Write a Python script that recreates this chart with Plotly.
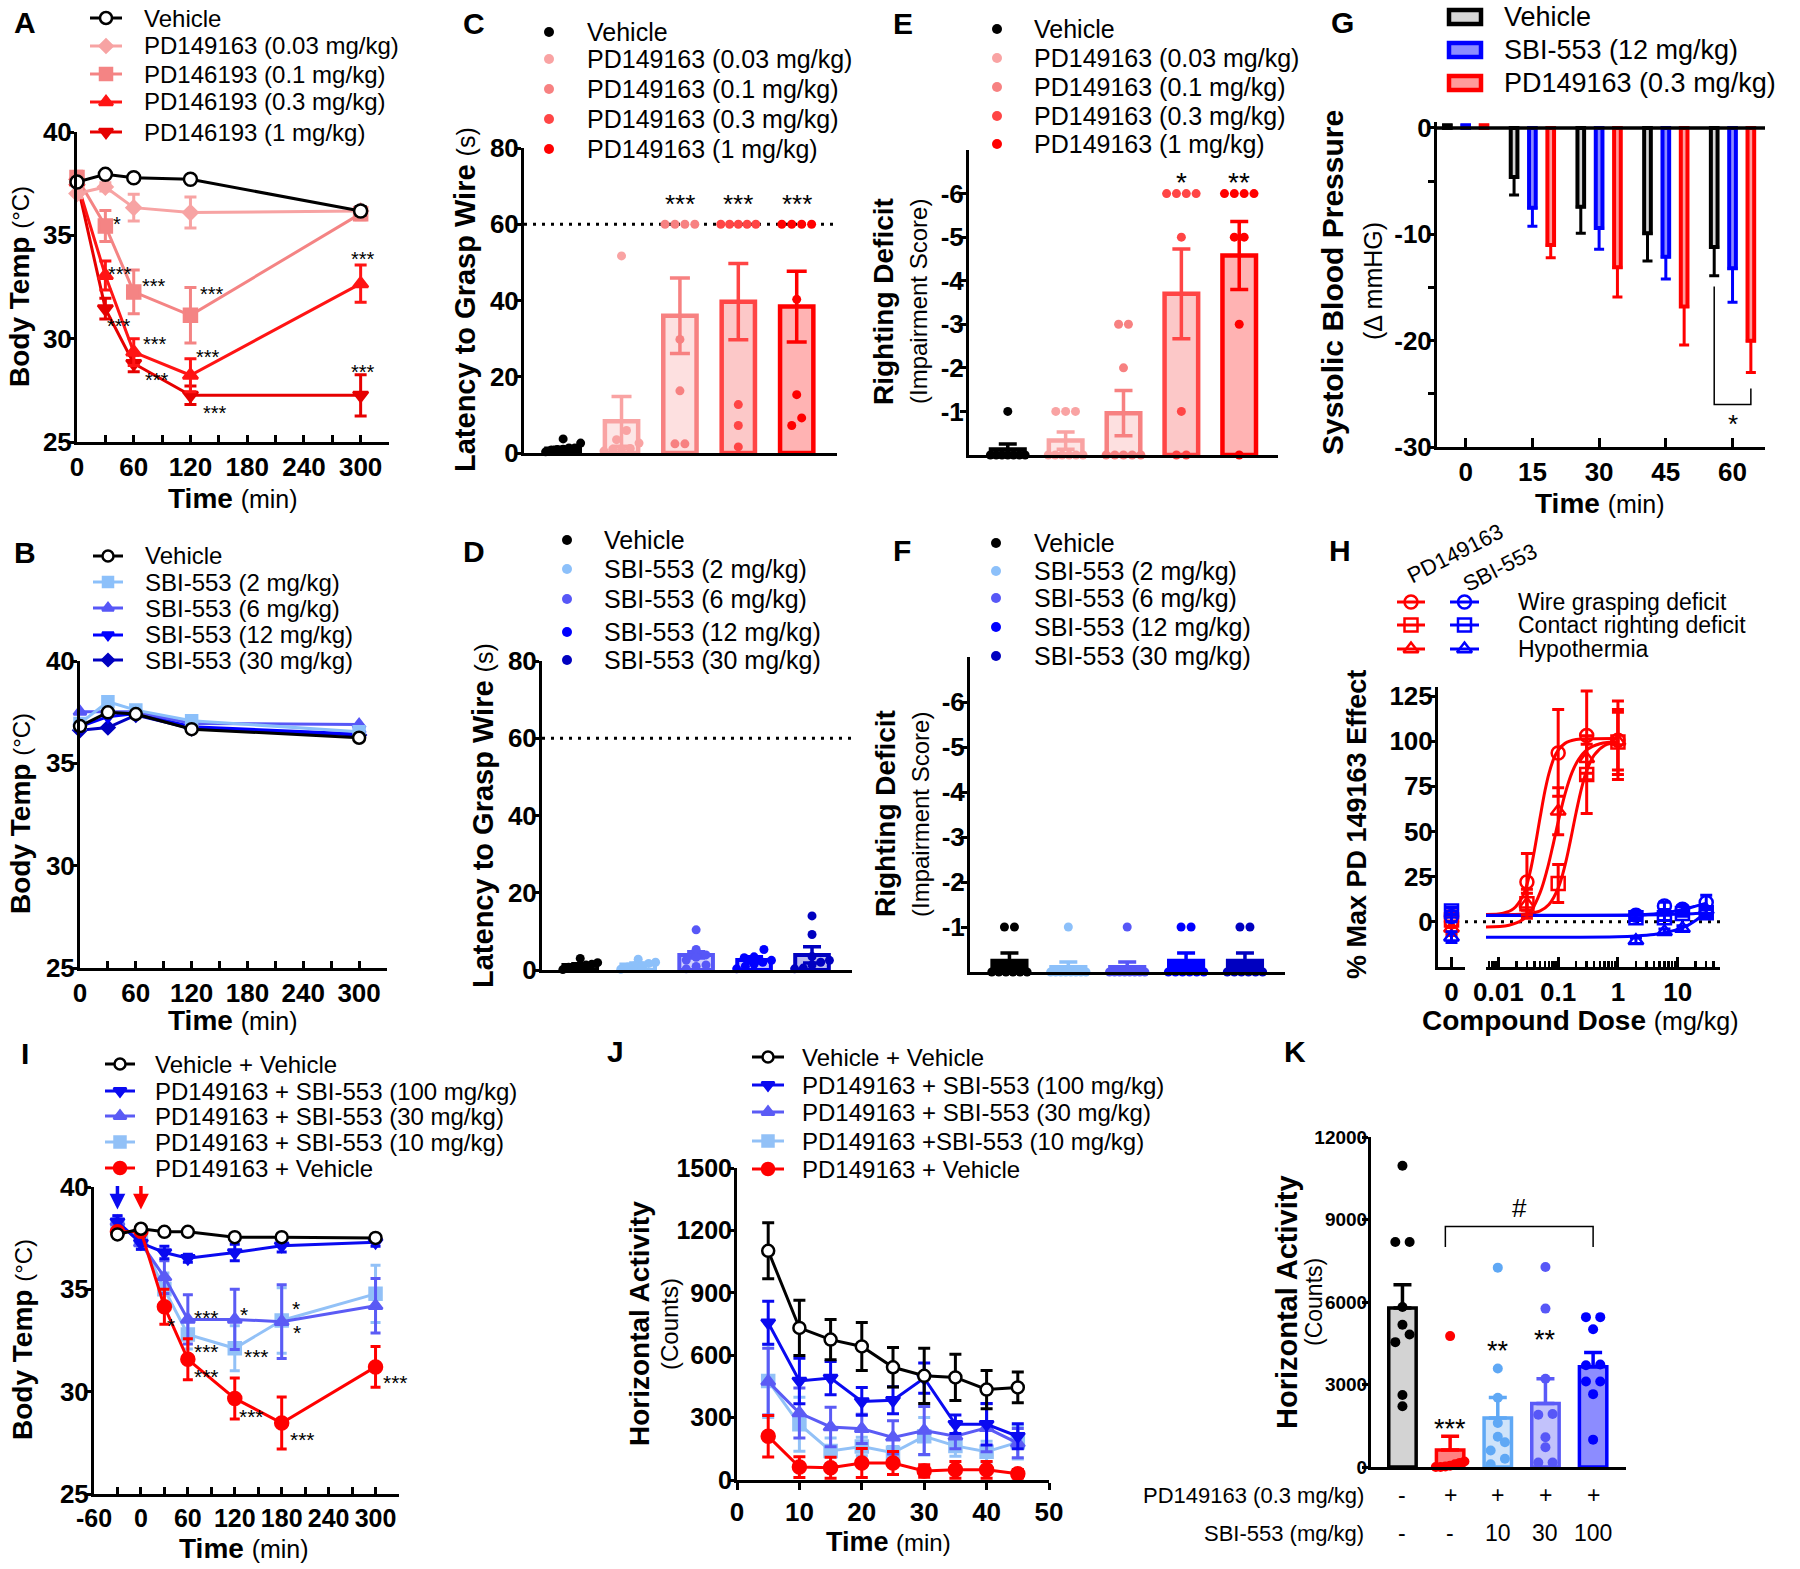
import numpy as np
import plotly.graph_objects as go

W, H = 1800, 1569
OFF = 0                      # page body margin is reset to 0 below
FW, FH = W - OFF, H - OFF
FONT = "Liberation Sans, Arial, Helvetica, sans-serif"

# ============================ DATA ============================
# ---- A : body temperature after PD149163
A_time = [0, 30, 60, 120, 300]
A_labels = ["Vehicle", "PD149163 (0.03 mg/kg)", "PD146193 (0.1 mg/kg)",
            "PD146193 (0.3 mg/kg)", "PD146193 (1 mg/kg)"]
A_vehicle = [37.58, 37.95, 37.79, 37.71, 36.18]
A_pd003 = [37.02, 37.34, 36.34, 36.10, 36.18]
A_pd01 = [37.80, 35.45, 32.26, 31.13, 36.05]
A_pd03 = [37.58, 33.06, 29.35, 28.23, 32.66]
A_pd1 = [37.58, 31.45, 28.80, 27.26, 27.26]
A_vehicle_sem = [0.15, 0.10, 0.10, 0.10, 0.20]
A_pd003_sem = [0.20, 0.20, 0.65, 0.75, 0.20]
A_pd01_sem = [0.30, 0.75, 1.06, 1.34, 0.30]
A_pd03_sem = [0.20, 0.70, 0.65, 0.80, 0.90]
A_pd1_sem = [0.20, 0.50, 0.40, 0.45, 1.00]
A_sig_x = [42, 46, 81, 143, 44, 82, 139, 85, 146, 302, 302]
A_sig_y = [35.74, 33.32, 32.74, 32.35, 30.81, 29.94, 29.31, 28.19, 26.60, 34.05, 28.58]
A_sig_t = ["*", "***", "***", "***", "***", "***", "***", "***", "***", "***", "***"]

# ---- B : body temperature after SBI-553
B_time = [0, 30, 60, 120, 300]
B_labels = ["Vehicle", "SBI-553 (2 mg/kg)", "SBI-553 (6 mg/kg)",
            "SBI-553 (12 mg/kg)", "SBI-553 (30 mg/kg)"]
B_vehicle = [36.82, 37.49, 37.41, 36.67, 36.25]
B_sbi2 = [36.95, 38.01, 37.60, 37.08, 36.54]
B_sbi6 = [37.52, 37.52, 37.52, 36.95, 36.90]
B_sbi12 = [36.79, 37.28, 37.44, 36.79, 36.43]
B_sbi30 = [36.62, 36.75, 37.36, 36.70, 36.38]

# ---- C : latency to grasp wire (s), PD149163
C_labels = ["Vehicle", "PD149163 (0.03 mg/kg)", "PD149163 (0.1 mg/kg)",
            "PD149163 (0.3 mg/kg)", "PD149163 (1 mg/kg)"]
C_mean = [1.1, 8.3, 36.0, 39.7, 38.4]
C_sem = [0.4, 6.5, 9.9, 10.0, 9.3]
C_pts_vehicle = [2.6, 3.7, 1.0, 1.3, 0.3, 1.3, 0.9, 0.8]
C_pts_pd003 = [51.7, 5.9, 2.6, 3.5, 1.0, 1.0, 0.5, 1.2]
C_pts_pd01 = [60, 60, 60, 60, 29.8, 16.3, 2.4, 2.4]
C_pts_pd03 = [60, 60, 60, 60, 60, 12.7, 7.2, 1.6]
C_pts_pd1 = [60, 60, 60, 60, 40.3, 15.3, 9.2, 7.2]
C_sig = ["", "", "***", "***", "***"]
C_sig_y = 66.8
C_cutoff = 60

# ---- D : latency to grasp wire (s), SBI-553
D_labels = ["Vehicle", "SBI-553 (2 mg/kg)", "SBI-553 (6 mg/kg)",
            "SBI-553 (12 mg/kg)", "SBI-553 (30 mg/kg)"]
D_mean = [1.3, 1.4, 3.9, 2.6, 3.9]
D_sem = [0.3, 0.4, 0.8, 0.8, 2.1]
D_pts_vehicle = [1.9, 3.0, 0.9, 1.2, 1.3, 0.1, 0.7, 1.5]
D_pts_sbi2 = [2.8, 2.0, 1.7, 1.1, 1.1, 0.2, 0.8]
D_pts_sbi6 = [10.4, 5.3, 3.9, 3.3, 2.6, 1.3, 0.9, 0.3]
D_pts_sbi12 = [5.3, 3.4, 3.2, 2.5, 2.0, 1.5, 1.0, 0.3]
D_pts_sbi30 = [14.0, 9.2, 3.5, 2.5, 2.0, 1.3, 0.5, 0.3]
D_cutoff = 60

# ---- E : righting deficit (impairment score), PD149163
E_mean = [-0.125, -0.33, -0.96, -3.70, -4.58]
E_sem = [0.125, 0.20, 0.52, 1.03, 0.78]
E_pts_vehicle = [-1, 0, 0, 0, 0, 0, 0, 0]
E_pts_pd003 = [-1, -1, -1, 0, 0, 0, 0, 0, 0]
E_pts_pd01 = [-3, -3, -2, 0, 0, 0, 0, 0]
E_pts_pd03 = [-6, -6, -6, -6, -5, -1, 0, 0]
E_pts_pd1 = [-6, -6, -6, -6, -5, -5, -3, 0]
E_sig = ["", "", "", "*", "**"]
E_sig_y = -6.4

# ---- F : righting deficit, SBI-553
F_mean = [-0.25, -0.11, -0.11, -0.25, -0.25]
F_sem = [0.17, 0.11, 0.11, 0.17, 0.17]
F_pts_vehicle = [-1, -1, 0, 0, 0, 0, 0, 0]
F_pts_sbi2 = [-1, 0, 0, 0, 0, 0, 0, 0, 0]
F_pts_sbi6 = [-1, 0, 0, 0, 0, 0, 0, 0, 0]
F_pts_sbi12 = [-1, -1, 0, 0, 0, 0, 0, 0]
F_pts_sbi30 = [-1, -1, 0, 0, 0, 0, 0, 0]

# ---- G : systolic blood pressure change (mmHg)
G_time = [0, 15, 30, 45, 60]
G_labels = ["Vehicle", "SBI-553 (12 mg/kg)", "PD149163 (0.3 mg/kg)"]
G_vehicle = [0.25, -4.6, -7.4, -9.9, -11.2]
G_sbi = [0.25, -7.5, -9.4, -12.1, -13.2]
G_pd = [0.25, -11.0, -13.1, -16.8, -20.0]
G_vehicle_sem = [0, 1.7, 2.5, 2.6, 2.7]
G_sbi_sem = [0, 1.75, 2.0, 2.1, 3.2]
G_pd_sem = [0, 1.2, 2.8, 3.6, 3.0]

# ---- H : dose-response (% max PD149163 effect)
H_pd_dose = [0.03, 0.1, 0.3, 1]
H_pd_wire = [22.1, 93.5, 103.2, 100.5]
H_pd_wire_sem = [15.7, 24.0, 24.6, 21.7]
H_pd_right = [10.0, 21.2, 81.5, 99.6]
H_pd_right_sem = [8.0, 10.5, 21.5, 18.0]
H_pd_hypo = [9.8, 61.2, 90.3, 100.0]
H_pd_hypo_sem = [6.0, 13.0, 8.0, 16.0]
H_sbi_dose = [2, 6, 12, 30]
H_sbi_wire = [3.7, 8.8, 7.0, 10.7]
H_sbi_wire_sem = [1.5, 2.0, 2.0, 4.0]
H_sbi_right = [2.2, 2.2, 4.6, 5.0]
H_sbi_right_sem = [1.5, 1.5, 1.5, 2.0]
H_sbi_hypo = [-10.5, -5.5, -3.7, 6.5]
H_sbi_hypo_sem = [1.5, 1.5, 1.5, 2.0]
H_zero_pd = [0.0, 1.0, -3.5]          # wire, righting, hypothermia at dose 0
H_zero_pd_sem = [6.0, 4.0, 4.0]
H_zero_sbi = [3.0, 6.0, -8.5]
H_zero_sbi_sem = [3.0, 2.0, 3.0]
# fitted curves
H_fit_pd_wire_x = [0.0062, 0.012, 0.018, 0.025, 0.03, 0.035, 0.04, 0.05, 0.06, 0.07, 0.085, 0.1, 0.13, 0.2, 0.4, 1.0]
H_fit_pd_wire_y = [4.1, 4.8, 7.3, 13.6, 20.7, 29.6, 39.4, 58.0, 72.4, 82.1, 90.6, 95.0, 98.8, 100.9, 101.4, 101.5]
H_fit_pd_hypo_x = [0.0062, 0.015, 0.025, 0.035, 0.05, 0.065, 0.08, 0.1, 0.13, 0.17, 0.22, 0.3, 0.5, 1.0]
H_fit_pd_hypo_y = [-2.9, -1.9, 1.0, 5.9, 16.3, 28.6, 41.0, 55.3, 70.7, 82.6, 90.0, 95.2, 98.6, 99.8]
H_fit_pd_right_x = [0.0062, 0.03, 0.05, 0.07, 0.1, 0.13, 0.16, 0.2, 0.25, 0.3, 0.4, 0.6, 1.0]
H_fit_pd_right_y = [4.0, 4.5, 6.1, 9.6, 18.7, 31.3, 44.8, 60.7, 74.8, 83.7, 92.3, 97.6, 99.5]
H_fit_sbi_wire_x = [0.0062, 0.1, 1, 2, 4, 6, 10, 15, 20, 30]
H_fit_sbi_wire_y = [3.5, 3.5, 3.6, 3.8, 4.4, 5.0, 6.2, 7.6, 8.7, 10.3]
H_fit_sbi_right_x = [0.0062, 1, 5, 10, 20, 30]
H_fit_sbi_right_y = [3.6, 3.7, 3.9, 4.2, 4.6, 5.0]
H_fit_sbi_hypo_x = [0.0062, 0.1, 1, 2, 4, 6, 10, 15, 20, 30]
H_fit_sbi_hypo_y = [-8.5, -8.5, -8.2, -7.8, -7.0, -6.0, -4.2, -1.8, 0.8, 5.0]
H_labels = ["Wire grasping deficit", "Contact righting deficit", "Hypothermia"]

# ---- I : body temperature, combination
I_time = [-30, 0, 30, 60, 120, 180, 300]
I_labels = ["Vehicle + Vehicle", "PD149163 + SBI-553 (100 mg/kg)", "PD149163 + SBI-553 (30 mg/kg)",
            "PD149163 + SBI-553 (10 mg/kg)", "PD149163 + Vehicle"]
I_vehicle = [37.68, 37.96, 37.81, 37.81, 37.55, 37.55, 37.51]
I_sbi100 = [38.30, 37.26, 36.80, 36.52, 36.80, 37.13, 37.30]
I_sbi30 = [38.30, 37.26, 35.60, 33.53, 33.53, 33.42, 34.20]
I_sbi10 = [38.13, 37.43, 35.00, 32.79, 32.12, 33.48, 34.78]
I_pd = [37.81, 37.84, 34.15, 31.58, 29.67, 28.47, 31.21]
I_vehicle_sem = [0.1, 0.1, 0.1, 0.1, 0.1, 0.1, 0.1]
I_sbi100_sem = [0.3, 0.3, 0.3, 0.2, 0.4, 0.3, 0.2]
I_sbi30_sem = [0.3, 0.3, 0.8, 1.2, 1.47, 1.8, 1.33]
I_sbi10_sem = [0.3, 0.3, 0.8, 0.7, 1.1, 1.6, 1.4]
I_pd_sem = [0.2, 0.2, 0.85, 1.0, 1.0, 1.27, 1.0]
I_sig_x = [84, 132, 38, 84, 148, 198, 200, 84, 142, 206, 326]
I_sig_y = [33.87, 34.02, 33.47, 32.23, 31.98, 34.30, 33.12, 30.98, 29.04, 27.89, 30.68]
I_sig_t = ["***", "*", "*", "***", "***", "*", "*", "***", "***", "***", "***"]
I_dose_time_sbi = -30
I_dose_time_pd = 0

# ---- J : horizontal activity over time
J_time = [5, 10, 15, 20, 25, 30, 35, 40, 45]
J_labels = ["Vehicle + Vehicle", "PD149163 + SBI-553 (100 mg/kg)", "PD149163 + SBI-553 (30 mg/kg)",
            "PD149163 +SBI-553 (10 mg/kg)", "PD149163 + Vehicle"]
J_vehicle = [1102, 731, 675, 642, 542, 501, 493, 435, 445]
J_sbi100 = [756, 476, 490, 378, 383, 490, 268, 268, 210]
J_sbi30 = [473, 322, 255, 246, 205, 238, 210, 251, 177]
J_sbi10 = [476, 268, 140, 161, 131, 210, 164, 136, 181]
J_pd = [210, 62, 59, 82, 82, 43, 49, 49, 30]
J_vehicle_sem = [135, 133, 97, 115, 95, 133, 111, 92, 74]
J_sbi100_sem = [103, 109, 80, 67, 65, 73, 45, 100, 60]
J_sbi30_sem = [160, 120, 95, 70, 80, 115, 60, 115, 70]
J_sbi10_sem = [175, 130, 62, 45, 30, 90, 50, 50, 80]
J_pd_sem = [100, 50, 50, 70, 55, 30, 40, 40, 20]

# ---- K : total horizontal activity
K_mean = [5782, 622, 1778, 2313, 3643]
K_sem = [846, 497, 746, 895, 523]
K_pts_vehicle = [10955, 8180, 8180, 5820, 5170, 4820, 4540, 2620, 2210]
K_pts_pd = [4760, 200, 150, 100, 50, 20, 0, 0]
K_pts_sbi10 = [7250, 3580, 2520, 1600, 1100, 900, 600, 300, 100]
K_pts_sbi30 = [7270, 5760, 3210, 1930, 1900, 1080, 720, 160, 160]
K_pts_sbi100 = [5450, 5450, 5010, 3730, 3700, 3110, 3110, 2650, 995]
K_sig = ["", "***", "**", "**", ""]
K_sig_y = [0, 1617, 4427, 4825, 0]
K_row1_label = "PD149163 (0.3 mg/kg)"
K_row2_label = "SBI-553 (mg/kg)"
K_row1 = ["-", "+", "+", "+", "+"]
K_row2 = ["-", "-", "10", "30", "100"]

# ---- tick values
T_time = [0, 30, 60, 90, 120, 150, 180, 210, 240, 270, 300, 330]
T_time_I = [-60, -30] + T_time
G_yticks = [0, -5, -10, -15, -20, -25, -30]
H_major = [0.01, 0.1, 1, 10]
H_minor = [0.007, 0.008, 0.009, 0.02, 0.03, 0.04, 0.05, 0.06, 0.07, 0.08, 0.09,
           0.2, 0.3, 0.4, 0.5, 0.6, 0.7, 0.8, 0.9, 2, 3, 4, 5, 6, 7, 8, 9, 20, 30, 40, 50]


def lab_every(vals, step):
    return [str(v) if v % step == 0 else "" for v in vals]


# ============================ STYLE ============================
BLACK = "#000000"
A_colors = [BLACK, "#F7A3A3", "#F48484", "#FF1414", "#E60000"]
A_symbols = ["circle", "diamond", "square", "triangle-up", "triangle-down"]
A_fill = ["white", None, None, None, None]
A_sizes = [13, 11, 13, 13, 13]
B_colors = [BLACK, "#8CC0FA", "#5757F7", "#0000FF", "#0000C0"]
B_symbols = ["circle", "square", "triangle-up", "triangle-down", "diamond"]
B_sizes = [12, 11, 11, 11, 10]
C_out = [BLACK, "#F9A3A3", "#F78181", "#FF4545", "#FF0000"]
C_fill = ["#CFCFCF", "#FDE6E6", "#FDE0E0", "#FCC8C8", "#FFB3B3"]
D_out = [BLACK, "#8CC0FA", "#5757F7", "#0000FF", "#0000C0"]
D_fill = ["#CFCFCF", "#DDEBFD", "#D2D2FD", "#C4C4FF", "#BABAEE"]
G_out = [BLACK, "#0000FF", "#FF0000"]
G_fill = ["#D6D6D6", "#8C8CFF", "#FF9C9C"]
IJ_colors = [BLACK, "#0A0AF0", "#5B5BF5", "#92C1F7", "#FF0000"]
IJ_symbols = ["circle", "triangle-down", "triangle-up", "square", "circle"]
IJ_fill = ["white", None, None, None, None]
IJ_sizes = [12, 12, 12, 12, 13]
K_out = [BLACK, "#FF0000", "#5FA8F5", "#5A5AF8", "#0000FF"]
K_fill = ["#D3D3D3", "#FF8080", "#CFE3FA", "#C2C2FB", "#8C8CFF"]
K_pt = [BLACK, "#FF0000", "#5FA8F5", "#5757F7", "#0000FF"]
H_red, H_blue = "#FF0000", "#0000FF"
TICK = 26

fig = go.Figure()
layout_axes = {}


def xname(n): return "xaxis" if n == 1 else f"xaxis{n}"
def yname(n): return "yaxis" if n == 1 else f"yaxis{n}"
def xr(n): return "x" if n == 1 else f"x{n}"
def yr(n): return "y" if n == 1 else f"y{n}"
def PX(x): return (x - OFF) / FW
def PY(y): return 1 - (y - OFF) / FH


def base_axis(**kw):
    size = kw.pop("fsize", TICK)
    d = dict(showline=True, linewidth=3, linecolor="black", showgrid=False, zeroline=False,
             ticks="outside", ticklen=7, tickwidth=3, tickcolor="black", automargin=False,
             tickfont=dict(family=FONT, size=size, color="black"))
    d.update(kw)
    return d


YTK = dict(ticklen=6, ticklabelstandoff=-9)


def set_axes(n, xbox, ybox, xkw, ykw):
    yk = dict(YTK)
    yk.update(ykw)
    layout_axes[xname(n)] = base_axis(domain=[PX(xbox[0]), PX(xbox[1])], anchor=yr(n), **xkw)
    layout_axes[yname(n)] = base_axis(domain=[PY(ybox[1]), PY(ybox[0])], anchor=xr(n), **yk)


def bold(lst):
    return [f"<b>{s}</b>" if s else "" for s in lst]


NOTICK = dict(ticks="", showticklabels=False)
time_x = dict(range=[0, 330], tickmode="array", tickvals=T_time, ticktext=bold(lab_every(T_time, 60)),
              ticks="inside")
temp_y = dict(range=[25, 40], tickmode="array", tickvals=[25, 30, 35, 40], ticktext=bold(["25", "30", "35", "40"]))
set_axes(1, (77, 389), (132, 442), time_x, temp_y)
set_axes(2, (80, 387), (661, 968), time_x, temp_y)
lat_y = dict(range=[0, 80], tickmode="array", tickvals=[0, 20, 40, 60, 80],
             ticktext=bold(["0", "20", "40", "60", "80"]))
set_axes(3, (524, 837), (148, 453), dict(range=[-0.67, 4.69], **NOTICK), lat_y)
set_axes(4, (542, 852), (661, 970), dict(range=[-0.66, 4.69], **NOTICK), lat_y)
neg_vals = [-1, -2, -3, -4, -5, -6]
neg_y = dict(range=[0, -7], tickmode="array", tickvals=neg_vals, ticktext=bold([str(v) for v in neg_vals]))
set_axes(5, (969, 1278), (150, 455), dict(range=[-0.67, 4.67], **NOTICK), neg_y)
set_axes(6, (970, 1285), (657, 972), dict(range=[-0.67, 4.68], **NOTICK), neg_y)
set_axes(7, (1437, 1765), (122, 447),
         dict(range=[-6.45, 67.3], tickmode="array", tickvals=G_time, ticktext=bold([str(v) for v in G_time]),
              ticks="inside", ticklen=9),
         dict(range=[-30, 0.56], tickmode="array", tickvals=G_yticks,
              ticktext=bold(lab_every(G_yticks, 10))))
# H : broken x axis (zero segment + log segment)
layout_axes["yaxis8"] = base_axis(domain=[PY(967), PY(687)], anchor="x9", range=[-25, 130],
                                  tickmode="array", tickvals=[0, 25, 50, 75, 100, 125],
                                  ticktext=bold(["0", "25", "50", "75", "100", "125"]), **YTK)
layout_axes["xaxis8"] = base_axis(domain=[PX(1486), PX(1720)], anchor="y8", type="log",
                                  range=[float(np.log10(0.0062)), float(np.log10(51))],
                                  tickmode="array", tickvals=H_major,
                                  ticktext=bold(["0.01", "0.1", "1", "10"]),
                                  ticks="inside", ticklen=10,
                                  minor=dict(tickmode="array", tickvals=H_minor, ticks="inside", ticklen=6,
                                             tickwidth=2.5, tickcolor="black"))
layout_axes["xaxis9"] = base_axis(domain=[PX(1438), PX(1465)], anchor="y8", range=[-1, 1],
                                  tickmode="array", tickvals=[0], ticktext=bold(["0"]), ticks="inside", ticklen=10)
set_axes(10, (94, 399), (1187, 1494),
         dict(range=[-60, 330], tickmode="array", tickvals=T_time_I, ticktext=bold(lab_every(T_time_I, 60)),
              ticks="inside", fsize=25), temp_y)
J_xt = [0, 10, 20, 30, 40, 50]
J_yt = [0, 300, 600, 900, 1200, 1500]
set_axes(11, (737, 1049), (1168, 1480),
         dict(range=[0, 50], tickmode="array", tickvals=J_xt, ticktext=bold([str(v) for v in J_xt])),
         dict(range=[0, 1500], tickmode="array", tickvals=J_yt, ticktext=bold([str(v) for v in J_yt]), fsize=25))
K_yt = [0, 3000, 6000, 9000, 12000]
set_axes(12, (1371, 1626), (1137, 1467), dict(range=[-0.66, 4.69], **NOTICK),
         dict(range=[0, 12000], tickmode="array", tickvals=K_yt, ticktext=bold([str(v) for v in K_yt]), fsize=19))
# overlay in pixel coordinates (legend keys)
layout_axes["xaxis13"] = dict(domain=[0, 1], range=[OFF, W], visible=False, anchor="y13")
layout_axes["yaxis13"] = dict(domain=[0, 1], range=[H, OFF], visible=False, anchor="x13")


# ============================ HELPERS ============================
def line_series(n, x, y, sem, color, symbol, size, fill, cap=6, lw=3):
    fig.add_trace(go.Scatter(
        x=x, y=y, mode="lines+markers", xaxis=xr(n), yaxis=yr(n),
        line=dict(color=color, width=lw),
        marker=dict(symbol=symbol, size=size, color=fill or color, line=dict(color=color, width=2.5)),
        error_y=(dict(type="data", array=sem, color=color, thickness=3, width=cap)
                 if sem is not None else dict(visible=False)),
        cliponaxis=False, showlegend=False, hoverinfo="skip"))


def swarm(values, tol, step, maxw=0.6):
    v = np.asarray(values, dtype=float)
    order = np.argsort(v, kind="stable")
    offs = np.zeros(len(v))
    groups, cur = [], [order[0]]
    for i in order[1:]:
        if abs(v[i] - v[cur[0]]) <= tol:
            cur.append(i)
        else:
            groups.append(cur)
            cur = [i]
    groups.append(cur)
    for g in groups:
        m = len(g)
        if m > 1:
            s = min(step, maxw / (m - 1))
            for k, i in enumerate(g):
                offs[i] = (k - (m - 1) / 2) * s
    return offs


def bar_panel(n, means, sems, points, outline, fill, ptcol, tol, step, width=0.57, lw=4,
              cap=10, up_only=False, ptsize=9):
    for i in range(len(means)):
        fig.add_trace(go.Bar(
            x=[i], y=[means[i]], width=width, xaxis=xr(n), yaxis=yr(n),
            marker=dict(color=fill[i], line=dict(color=outline[i], width=lw)),
            error_y=dict(type="data", symmetric=False, array=[sems[i]],
                         arrayminus=[0 if up_only else sems[i]],
                         color=outline[i], thickness=3.5, width=cap),
            showlegend=False, hoverinfo="skip"))
    for i, pts in enumerate(points):
        offs = swarm(pts, tol, step)
        fig.add_trace(go.Scatter(
            x=(i + offs).tolist(), y=pts, mode="markers", xaxis=xr(n), yaxis=yr(n),
            marker=dict(color=ptcol[i], size=ptsize, line=dict(width=0)),
            cliponaxis=False, showlegend=False, hoverinfo="skip"))


def txt(x, y, s, size, xanchor="left", angle=0, yshift=0, color="black"):
    fig.add_annotation(x=PX(x), y=PY(y), xref="paper", yref="paper", text=s, showarrow=False,
                       font=dict(family=FONT, size=size, color=color), xanchor=xanchor,
                       yanchor="middle", textangle=angle, yshift=yshift)


def data_txt(n, x, y, s, size, yshift=-5):
    fig.add_annotation(x=x, y=y, xref=xr(n), yref=yr(n), text=s, showarrow=False,
                       font=dict(family=FONT, size=size, color="black"), xanchor="center",
                       yanchor="middle", yshift=yshift)


def title2(b, rest, rsize=24):
    return f"<b>{b}</b> <span style='font-size:{rsize}px'>{rest}</span>"


def key_line(x0, x1, y, color, symbol, size, fill, lw=3):
    fig.add_trace(go.Scatter(x=[x0, x1], y=[y, y], mode="lines", line=dict(color=color, width=lw),
                             xaxis="x13", yaxis="y13", showlegend=False, hoverinfo="skip"))
    fig.add_trace(go.Scatter(x=[(x0 + x1) / 2], y=[y], mode="markers",
                             marker=dict(symbol=symbol, size=size, color=fill or color,
                                         line=dict(color=color, width=2.5)),
                             xaxis="x13", yaxis="y13", showlegend=False, hoverinfo="skip",
                             cliponaxis=False))


def key_dot(x, y, color, size=10):
    fig.add_trace(go.Scatter(x=[x], y=[y], mode="markers", marker=dict(color=color, size=size),
                             xaxis="x13", yaxis="y13", showlegend=False, hoverinfo="skip",
                             cliponaxis=False))


shapes = []

# ============================ PANEL A ============================
A_series = [A_vehicle, A_pd003, A_pd01, A_pd03, A_pd1]
A_sems = [A_vehicle_sem, A_pd003_sem, A_pd01_sem, A_pd03_sem, A_pd1_sem]
for k in [4, 3, 2, 1, 0]:
    line_series(1, A_time, A_series[k], A_sems[k], A_colors[k], A_symbols[k], A_sizes[k], A_fill[k])
for x, y, t in zip(A_sig_x, A_sig_y, A_sig_t):
    data_txt(1, x, y, t, 20, yshift=-4)
for i, yy in enumerate([18, 46, 74, 102, 132]):
    key_line(90, 122, yy, A_colors[i], A_symbols[i], A_sizes[i] - 1, A_fill[i])
    txt(142, yy, A_labels[i], 24)

# ============================ PANEL B ============================
B_series = [B_vehicle, B_sbi2, B_sbi6, B_sbi12, B_sbi30]
for k in [4, 3, 2, 1, 0]:
    line_series(2, B_time, B_series[k], None, B_colors[k], B_symbols[k], B_sizes[k],
                "white" if k == 0 else None)
for i, yy in enumerate([556, 582, 608, 635, 660]):
    key_line(93, 123, yy, B_colors[i], B_symbols[i], B_sizes[i] - 1, "white" if i == 0 else None)
    txt(143, yy, B_labels[i], 24)

# ============================ PANEL C ============================
bar_panel(3, C_mean, C_sem, [C_pts_vehicle, C_pts_pd003, C_pts_pd01, C_pts_pd03, C_pts_pd1],
          C_out, C_fill, C_out, tol=2.5, step=0.17, width=0.57, lw=4.5, cap=10)
shapes.append(dict(type="line", xref="x3 domain", x0=0, x1=1, yref="y3", y0=C_cutoff, y1=C_cutoff,
                   layer="below", line=dict(color="black", width=3, dash="3px,6px")))
for i, s in enumerate(C_sig):
    if s:
        data_txt(3, i, C_sig_y, s, 26, yshift=-6)
for i, yy in enumerate([32, 59, 89, 119, 149]):
    key_dot(549, yy, C_out[i])
    txt(585, yy, C_labels[i], 25)

# ============================ PANEL D ============================
bar_panel(4, D_mean, D_sem, [D_pts_vehicle, D_pts_sbi2, D_pts_sbi6, D_pts_sbi12, D_pts_sbi30],
          D_out, D_fill, D_out, tol=2.3, step=0.17, width=0.58, lw=4, cap=9)
shapes.append(dict(type="line", xref="x4 domain", x0=0, x1=1, yref="y4", y0=D_cutoff, y1=D_cutoff,
                   layer="below", line=dict(color="black", width=3, dash="3px,6px")))
for i, yy in enumerate([540, 569, 599, 632, 660]):
    key_dot(567, yy, D_out[i])
    txt(602, yy, D_labels[i], 25)

# ============================ PANEL E ============================
bar_panel(5, E_mean, E_sem, [E_pts_vehicle, E_pts_pd003, E_pts_pd01, E_pts_pd03, E_pts_pd1],
          C_out, C_fill, C_out, tol=0.2, step=0.17, width=0.58, lw=4.5, cap=9)
for i, s in enumerate(E_sig):
    if s:
        data_txt(5, i, E_sig_y, s, 28, yshift=-6)
for i, yy in enumerate([29, 58, 87, 116, 144]):
    key_dot(997, yy, C_out[i])
    txt(1032, yy, C_labels[i], 25)

# ============================ PANEL F ============================
bar_panel(6, F_mean, F_sem, [F_pts_vehicle, F_pts_sbi2, F_pts_sbi6, F_pts_sbi12, F_pts_sbi30],
          D_out, D_out, D_out, tol=0.2, step=0.17, width=0.58, lw=4, cap=9)
for i, yy in enumerate([543, 571, 598, 627, 656]):
    key_dot(996, yy, D_out[i])
    txt(1032, yy, D_labels[i], 25)

# ============================ PANEL G ============================
G_sp, G_w = 4.12, 1.5
for k, (vals, sem) in enumerate([(G_vehicle, G_vehicle_sem), (G_sbi, G_sbi_sem), (G_pd, G_pd_sem)]):
    fig.add_trace(go.Bar(
        x=G_time, y=vals, width=G_w, offset=(k - 1) * G_sp - G_w / 2, xaxis="x7", yaxis="y7",
        marker=dict(color=G_fill[k], line=dict(color=G_out[k], width=4)),
        error_y=dict(type="data", symmetric=False, array=[0] * len(vals), arrayminus=sem,
                     color=G_out[k], thickness=3, width=5),
        showlegend=False, hoverinfo="skip"))
shapes.append(dict(type="line", xref="x7 domain", x0=0, x1=1, yref="y7", y0=0, y1=0,
                   line=dict(color="black", width=3.5)))
shapes.append(dict(type="path", xref="x7", yref="y7",
                   path=f"M {60 - G_sp},-14.9 L {60 - G_sp},-26 L {60 + G_sp},-26 L {60 + G_sp},-24.5",
                   line=dict(color="black", width=1.5)))
data_txt(7, 60, -27.3, "*", 26, yshift=-6)
for i, yy in enumerate([17, 50, 83]):
    shapes.append(dict(type="rect", xref="paper", yref="paper", x0=PX(1449), x1=PX(1481),
                       y0=PY(yy + 7), y1=PY(yy - 7), fillcolor=G_fill[i],
                       line=dict(color=G_out[i], width=4.5)))
    txt(1502, yy, G_labels[i], 27)

# ============================ PANEL H ============================
H_fit = [(H_fit_pd_wire_x, H_fit_pd_wire_y, H_red), (H_fit_pd_hypo_x, H_fit_pd_hypo_y, H_red),
         (H_fit_pd_right_x, H_fit_pd_right_y, H_red), (H_fit_sbi_wire_x, H_fit_sbi_wire_y, H_blue),
         (H_fit_sbi_right_x, H_fit_sbi_right_y, H_blue), (H_fit_sbi_hypo_x, H_fit_sbi_hypo_y, H_blue)]
for fx, fy, c in H_fit:
    fig.add_trace(go.Scatter(x=fx, y=fy, mode="lines", line=dict(color=c, width=3, shape="spline"),
                             xaxis="x8", yaxis="y8", showlegend=False, hoverinfo="skip"))
H_sym = ["circle-open", "square-open", "triangle-up-open"]
H_pts = [(H_pd_dose, [H_pd_wire, H_pd_right, H_pd_hypo], [H_pd_wire_sem, H_pd_right_sem, H_pd_hypo_sem], H_red),
         (H_sbi_dose, [H_sbi_wire, H_sbi_right, H_sbi_hypo], [H_sbi_wire_sem, H_sbi_right_sem, H_sbi_hypo_sem], H_blue)]
for dose, ys, ss, c in H_pts:
    for k in range(3):
        fig.add_trace(go.Scatter(
            x=dose, y=ys[k], mode="markers", xaxis="x8", yaxis="y8",
            marker=dict(symbol=H_sym[k], size=13, color=c, line=dict(color=c, width=2.5)),
            error_y=dict(type="data", array=ss[k], color=c, thickness=3, width=6),
            cliponaxis=False, showlegend=False, hoverinfo="skip"))
for vals, sems, c in [(H_zero_pd, H_zero_pd_sem, H_red), (H_zero_sbi, H_zero_sbi_sem, H_blue)]:
    for k in range(3):
        fig.add_trace(go.Scatter(
            x=[0], y=[vals[k]], mode="markers", xaxis="x9", yaxis="y8",
            marker=dict(symbol=H_sym[k], size=13, color=c, line=dict(color=c, width=2.5)),
            error_y=dict(type="data", array=[sems[k]], color=c, thickness=3, width=6),
            cliponaxis=False, showlegend=False, hoverinfo="skip"))
shapes.append(dict(type="line", xref="paper", x0=PX(1447), x1=PX(1720), yref="y8", y0=0, y1=0,
                   layer="below", line=dict(color="black", width=3, dash="3px,6px")))
txt(1455, 553, "PD149163", 22, xanchor="center", angle=-27)
txt(1500, 567, "SBI-553", 22, xanchor="center", angle=-27)
for i, yy in enumerate([602, 625, 649]):
    key_line(1397, 1425, yy, H_red, H_sym[i], 13, None)
    key_line(1450, 1479, yy, H_blue, H_sym[i], 13, None)
    txt(1516, yy, H_labels[i], 23)

# ============================ PANEL I ============================
I_series = [I_vehicle, I_sbi100, I_sbi30, I_sbi10, I_pd]
I_sems = [I_vehicle_sem, I_sbi100_sem, I_sbi30_sem, I_sbi10_sem, I_pd_sem]
for k in [3, 2, 1, 4, 0]:
    line_series(10, I_time, I_series[k], I_sems[k], IJ_colors[k], IJ_symbols[k], IJ_sizes[k],
                IJ_fill[k], cap=5)
for x, y, t in zip(I_sig_x, I_sig_y, I_sig_t):
    data_txt(10, x, y, t, 21, yshift=-5)
for xx, c in [(I_dose_time_sbi, "#0A0AF0"), (I_dose_time_pd, "#FF0000")]:
    fig.add_annotation(x=xx, y=38.9, xref="x10", yref="y10", ax=0, ay=-25, text="",
                       showarrow=True, arrowhead=2, arrowsize=0.9, arrowwidth=3.5, arrowcolor=c)
for i, yy in enumerate([1064, 1091, 1116, 1142, 1168]):
    key_line(105, 135, yy, IJ_colors[i], IJ_symbols[i], IJ_sizes[i] - 1, IJ_fill[i])
    txt(153, yy, I_labels[i], 24)

# ============================ PANEL J ============================
J_series = [J_vehicle, J_sbi100, J_sbi30, J_sbi10, J_pd]
J_sems = [J_vehicle_sem, J_sbi100_sem, J_sbi30_sem, J_sbi10_sem, J_pd_sem]
for k in [3, 2, 1, 0, 4]:
    line_series(11, J_time, J_series[k], J_sems[k], IJ_colors[k], IJ_symbols[k], IJ_sizes[k],
                IJ_fill[k], cap=6)
for i, yy in enumerate([1057, 1085, 1112, 1141, 1169]):
    key_line(752, 784, yy, IJ_colors[i], IJ_symbols[i], IJ_sizes[i] - 1, IJ_fill[i])
    txt(800, yy, J_labels[i], 24)

# ============================ PANEL K ============================
bar_panel(12, K_mean, K_sem, [K_pts_vehicle, K_pts_pd, K_pts_sbi10, K_pts_sbi30, K_pts_sbi100],
          K_out, K_fill, K_pt, tol=350, step=0.3, width=0.575, lw=3.5, cap=9, up_only=True, ptsize=10)
for i, s in enumerate(K_sig):
    if s:
        data_txt(12, i, K_sig_y[i], s, 27, yshift=-6)
shapes.append(dict(type="path", xref="x12", yref="y12",
                   path="M 0.9,7996 L 0.9,8742 L 4,8742 L 4,7996", line=dict(color="black", width=1.5)))
data_txt(12, 2.45, 9426, "#", 26, yshift=0)
for i in range(5):
    fig.add_annotation(x=i, y=PY(1495), xref="x12", yref="paper", text=K_row1[i], showarrow=False,
                       font=dict(family=FONT, size=23, color="black"), xanchor="center", yanchor="middle")
    fig.add_annotation(x=i, y=PY(1533), xref="x12", yref="paper", text=K_row2[i], showarrow=False,
                       font=dict(family=FONT, size=23, color="black"), xanchor="center", yanchor="middle")
txt(1366, 1495, K_row1_label, 22, xanchor="right")
txt(1366, 1533, K_row2_label, 22, xanchor="right")

# ============================ TITLES & PANEL LETTERS ============================
for lab, x, y in [("A", 25, 23), ("B", 25, 552), ("C", 474, 24), ("D", 474, 551), ("E", 903, 24),
                  ("F", 902, 550), ("G", 1342, 23), ("H", 1340, 550), ("I", 25, 1053),
                  ("J", 615, 1051), ("K", 1295, 1051)]:
    txt(x, y, f"<b>{lab}</b>", 30, xanchor="center")

ytitles = [(19, 287, title2("Body Temp", "(°C)"), 28), (20, 814, title2("Body Temp", "(°C)"), 28),
           (465, 300, title2("Latency to Grasp Wire", "(s)", 25), 29),
           (483, 815, title2("Latency to Grasp Wire", "(s)", 25), 29),
           (883, 302, "<b>Righting Deficit</b>", 28), (918, 302, "(Impairment Score)", 24),
           (885, 814, "<b>Righting Deficit</b>", 28), (920, 814, "(Impairment Score)", 24),
           (1333, 283, "<b>Systolic Blood Pressure</b>", 30), (1373, 281, "(Δ mmHG)", 25),
           (1357, 825, "<b>% Max PD 149163 Effect</b>", 27),
           (22, 1340, title2("Body Temp", "(°C)"), 28),
           (639, 1324, "<b>Horizontal Activity</b>", 28), (669, 1324, "(Counts)", 24),
           (1287, 1302, "<b>Horizontal Activity</b>", 29), (1314, 1302, "(Counts)", 23)]
for x, y, s, sz in ytitles:
    txt(x, y, s, sz, xanchor="center", angle=-90)
xtitles = [(233, 498, title2("Time", "(min)", 25), 28), (233, 1020, title2("Time", "(min)", 25), 28),
           (1600, 503, title2("Time", "(min)", 25), 28),
           (1580, 1020, title2("Compound Dose", "(mg/kg)", 25), 28),
           (244, 1548, title2("Time", "(min)", 25), 28), (888, 1542, title2("Time", "(min)", 24), 27)]
for x, y, s, sz in xtitles:
    txt(x, y, s, sz, xanchor="center")

fig.update_layout(width=FW, height=FH, margin=dict(l=0, r=0, t=0, b=0, pad=0, autoexpand=False),
                  autosize=False, paper_bgcolor="white", plot_bgcolor="rgba(0,0,0,0)", showlegend=False,
                  barmode="overlay", font=dict(family=FONT, color="black"), shapes=shapes, **layout_axes)
fig.write_html("out.html", config={"displayModeBar": False, "staticPlot": True},
               post_script="document.body.style.margin='0px';")
